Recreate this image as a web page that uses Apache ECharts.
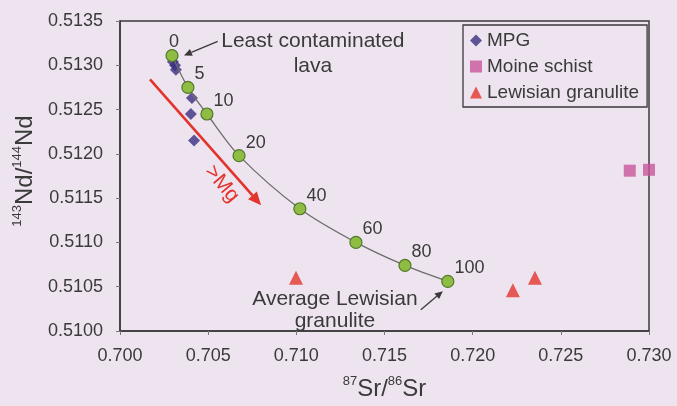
<!DOCTYPE html>
<html>
<head>
<meta charset="utf-8">
<script src="https://cdn.jsdelivr.net/npm/echarts@6/dist/echarts.min.js"></script>
<style>
  html, body { margin: 0; padding: 0; background: #ede4ef; }
  #main { width: 677px; height: 406px; }
</style>
</head>
<body>
<div id="main"></div>
<script>
// mixing curve (% contamination)
var mixLabels = ['0', '5', '10', '20', '40', '60', '80', '100'];
var mixSr = [0.70295, 0.70385, 0.70493, 0.70675, 0.71020, 0.71338, 0.71616, 0.71859];
var mixNd = [0.51311, 0.51275, 0.51245, 0.51198, 0.51138, 0.51100, 0.51074, 0.51056];

var mpgSr = [0.70300, 0.70312, 0.70317, 0.70408, 0.70402, 0.70420];
var mpgNd = [0.51304, 0.51300, 0.51295, 0.51263, 0.51245, 0.51215];

var moineSr = [0.72891, 0.73000];
var moineNd = [0.51181, 0.51182];

var lewSr = [0.70998, 0.72228, 0.72353];
var lewNd = [0.51060, 0.51046, 0.51060];

var font = 'Liberation Sans, Arial, sans-serif';
var ink = '#3a3a3a';

function pairs(xs, ys) {
  var out = [];
  for (var i = 0; i < xs.length; i++) out.push([xs[i], ys[i]]);
  return out;
}

var chart = echarts.init(document.getElementById('main'));

var axisNameRich = {
  b: { fontSize: 24, color: ink, lineHeight: 28, fontFamily: font },
  sup: { fontSize: 13, color: ink, lineHeight: 28, verticalAlign: 'top', fontFamily: font }
};

var option = {
  backgroundColor: '#ede4ef',
  textStyle: { fontFamily: font },
  grid: {
    left: 120, top: 21, right: 28, bottom: 73,
    show: true, borderColor: ink, borderWidth: 1.5
  },
  legend: {
    orient: 'vertical',
    left: 463, top: 25,
    padding: [6, 8, 5, 7],
    itemGap: 7,
    itemWidth: 12, itemHeight: 12,
    borderColor: ink, borderWidth: 1.3,
    backgroundColor: '#ede4ef',
    textStyle: { fontSize: 19, color: ink, fontFamily: font },
    data: ['MPG', 'Moine schist', 'Lewisian granulite']
  },
  xAxis: {
    type: 'value', min: 0.700, max: 0.730, interval: 0.005,
    splitLine: { show: false },
    axisLine: { show: true, lineStyle: { color: ink, width: 1.5 } },
    axisTick: { show: true, length: 4, lineStyle: { color: '#777' } },
    axisLabel: { fontSize: 18, color: ink, margin: 16,
      formatter: function (v) { return v.toFixed(3); } },
    name: '{sup|87}{b|Sr/}{sup|86}{b|Sr}',
    nameLocation: 'middle', nameGap: 44,
    nameTextStyle: { rich: axisNameRich }
  },
  yAxis: {
    type: 'value', min: 0.5100, max: 0.5135, interval: 0.0005,
    splitLine: { show: false },
    axisLine: { show: true, lineStyle: { color: ink, width: 1.5 } },
    axisTick: { show: true, length: 4, lineStyle: { color: '#777' } },
    axisLabel: { fontSize: 18, color: ink, margin: 17,
      formatter: function (v) { return v.toFixed(4); } },
    name: '{sup|143}{b|Nd/}{sup|144}{b|Nd}',
    nameLocation: 'middle', nameGap: 80, nameRotate: 90,
    nameTextStyle: { rich: axisNameRich, padding: [0, 0, 0, 10] }
  },
  series: [
    {
      name: 'mixing',
      type: 'line',
      smooth: 0.3,
      data: pairs(mixSr, mixNd).map(function (d, i) {
        if (i === 0) return { value: d, label: { position: 'top', distance: 0, offset: [2, 2] } };
        return d;
      }),
      symbol: 'circle', symbolSize: 12,
      lineStyle: { color: '#6e6e6e', width: 1.3 },
      itemStyle: { color: '#8fbc42', borderColor: '#52792a', borderWidth: 1.2 },
      label: {
        show: true, position: 'right', distance: 0, offset: [0, -13],
        fontSize: 18, color: ink, fontFamily: font,
        formatter: function (p) { return mixLabels[p.dataIndex]; }
      },
      z: 3
    },
    {
      name: 'MPG',
      type: 'scatter',
      data: pairs(mpgSr, mpgNd),
      symbol: 'diamond', symbolSize: 12,
      itemStyle: { color: '#3a2e80' },
      z: 2
    },
    {
      name: 'Moine schist',
      type: 'scatter',
      data: pairs(moineSr, moineNd),
      symbol: 'rect', symbolSize: 12,
      clip: false,
      itemStyle: { color: '#c8559a' }
    },
    {
      name: 'Lewisian granulite',
      type: 'scatter',
      data: pairs(lewSr, lewNd),
      symbol: 'triangle', symbolSize: 14,
      itemStyle: { color: '#e2342c' }
    }
  ]
};

chart.setOption(option);

function px(x, y) { return chart.convertToPixel({ gridIndex: 0 }, [x, y]); }

// arrow from data point a to data point b, head drawn at b
function arrow(a, b, color, width, head) {
  var p = px(a[0], a[1]), q = px(b[0], b[1]);
  var dx = q[0] - p[0], dy = q[1] - p[1];
  var len = Math.sqrt(dx * dx + dy * dy);
  var ux = dx / len, uy = dy / len;
  var bx = q[0] - ux * head, by = q[1] - uy * head;
  var hw = head * 0.45;
  return [
    { type: 'line', z: 10, silent: true,
      shape: { x1: p[0], y1: p[1], x2: bx, y2: by },
      style: { stroke: color, lineWidth: width } },
    { type: 'polygon', z: 10, silent: true,
      shape: { points: [[q[0], q[1]], [bx - uy * hw, by + ux * hw], [bx + uy * hw, by - ux * hw]] },
      style: { fill: color } }
  ];
}

var p1 = px(0.71094, 0.51313);
var p2 = px(0.71219, 0.51024);
var p3 = px(0.70578, 0.51166);

var graphics = []
  .concat(arrow([0.70554, 0.51327], [0.70363, 0.51311], ink, 1.3, 8))
  .concat(arrow([0.71706, 0.51024], [0.71831, 0.51045], ink, 1.3, 8))
  .concat(arrow([0.70170, 0.51284], [0.70800, 0.51142], '#e2342c', 2.6, 13))
  .concat([
    { type: 'text', x: p1[0], y: p1[1], z: 10,
      style: { text: 'Least contaminated\nlava', font: '21px ' + font, fill: ink,
               align: 'center', verticalAlign: 'middle', lineHeight: 25 } },
    { type: 'text', x: p2[0], y: p2[1], z: 10,
      style: { text: 'Average Lewisian\ngranulite', font: '21px ' + font, fill: ink,
               align: 'center', verticalAlign: 'middle', lineHeight: 22 } },
    { type: 'text', x: p3[0], y: p3[1], z: 10, rotation: -0.87,
      style: { text: '>Mg', font: '21px ' + font, fill: '#e2342c',
               align: 'center', verticalAlign: 'middle' } }
  ]);

chart.setOption({ graphic: graphics });
</script>
</body>
</html>
